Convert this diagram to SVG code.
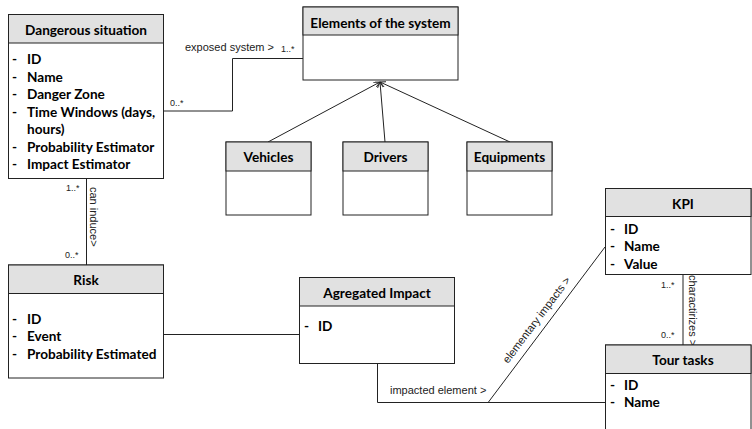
<svg xmlns="http://www.w3.org/2000/svg" width="752" height="429" viewBox="0 0 752 429">
<defs>
<style>
.box{fill:#fff;stroke:#222;stroke-width:1}
.hdr{fill:#e1e1e1;stroke:#222;stroke-width:1}
.t{font-family:Lato,"Liberation Sans",sans-serif;font-weight:bold;font-size:13.6px;fill:#000;text-anchor:middle}
.a{font-family:Lato,"Liberation Sans",sans-serif;font-weight:bold;font-size:13.6px;fill:#000}
.c{fill:none;stroke:#222;stroke-width:1}
.l{font-family:"Liberation Sans",Arial,sans-serif;font-size:11px;fill:#222}
.m{font-family:"Liberation Sans",Arial,sans-serif;font-size:9px;fill:#222}
</style>
<marker id="open" viewBox="0 0 10 10" refX="10" refY="5" markerWidth="6" markerHeight="6" orient="auto" markerUnits="userSpaceOnUse">
<path d="M0,0 L10,5 L0,10" fill="none" stroke="#222" stroke-width="1.5"/>
</marker>
</defs>
<rect width="752" height="429" fill="#fff"/>

<g id="connectors">
<polyline class="c" points="163,111 232.5,111 232.5,58.5 303,58.5"/>
<line class="c" x1="86.5" y1="178" x2="86.5" y2="265"/>
<line class="c" x1="163" y1="334.5" x2="299" y2="334.5"/>
<polyline class="c" points="377.5,363 377.5,402.5 605,402.5"/>
<line class="c" x1="488.5" y1="402" x2="605" y2="247"/>
<line class="c" x1="683" y1="274" x2="683" y2="345"/>
<line class="c" x1="268" y1="142" x2="380" y2="82" marker-end="url(#open)"/>
<line class="c" x1="385" y1="142" x2="380" y2="82" marker-end="url(#open)"/>
<line class="c" x1="510" y1="142" x2="380" y2="82" marker-end="url(#open)"/>
<text class="l" x="185" y="51">exposed system &gt;</text>
<text class="m" x="281" y="52">1..*</text>
<text class="m" x="170" y="106">0..*</text>
<text class="m" x="66" y="191">1..*</text>
<text class="m" x="65" y="258">0..*</text>
<text class="l" transform="translate(90,187) rotate(90)">can induce&gt;</text>
<text class="m" x="661" y="288">1..*</text>
<text class="m" x="661" y="338">0..*</text>
<text class="l" transform="translate(688.5,275) rotate(90)">charactirizes &gt;</text>
<text class="l" x="390" y="394">impacted element &gt;</text>
<text class="l" transform="translate(508,364) rotate(-53)">elementary impacts &gt;</text>
</g>

<g id="dangerous-situation">
<rect class="box" x="8.5" y="14.5" width="155" height="164"/>
<rect class="hdr" x="8.5" y="14.5" width="155" height="28.5"/>
<text class="t" x="86" y="35">Dangerous situation</text>
<text class="a" x="12" y="64">-</text><text class="a" x="27" y="64">ID</text>
<text class="a" x="12" y="81.5">-</text><text class="a" x="27" y="81.5">Name</text>
<text class="a" x="12" y="99">-</text><text class="a" x="27" y="99">Danger Zone</text>
<text class="a" x="12" y="116.5">-</text><text class="a" x="27" y="116.5">Time Windows (days,</text>
<text class="a" x="27" y="134">hours)</text>
<text class="a" x="12" y="151.5">-</text><text class="a" x="27" y="151.5">Probability Estimator</text>
<text class="a" x="12" y="169">-</text><text class="a" x="27" y="169">Impact Estimator</text>
</g>

<g id="elements-of-the-system">
<rect class="box" x="303" y="7" width="155" height="73"/>
<rect class="hdr" x="303" y="7" width="155" height="28"/>
<text class="t" x="380.5" y="28">Elements of the system</text>
</g>

<g id="vehicles">
<rect class="box" x="226" y="142" width="85" height="73"/>
<rect class="hdr" x="226" y="142" width="85" height="29"/>
<text class="t" x="268.5" y="162">Vehicles</text>
</g>

<g id="drivers">
<rect class="box" x="343" y="142" width="85" height="73"/>
<rect class="hdr" x="343" y="142" width="85" height="29"/>
<text class="t" x="385.5" y="162">Drivers</text>
</g>

<g id="equipments">
<rect class="box" x="467" y="142" width="85" height="73"/>
<rect class="hdr" x="467" y="142" width="85" height="29"/>
<text class="t" x="509.5" y="162">Equipments</text>
</g>

<g id="risk">
<rect class="box" x="8.5" y="265" width="155" height="113"/>
<rect class="hdr" x="8.5" y="265" width="155" height="28.5"/>
<text class="t" x="86" y="284.5">Risk</text>
<text class="a" x="12" y="323.5">-</text><text class="a" x="27" y="323.5">ID</text>
<text class="a" x="12" y="341">-</text><text class="a" x="27" y="341">Event</text>
<text class="a" x="12" y="358.5">-</text><text class="a" x="27" y="358.5">Probability Estimated</text>
</g>

<g id="agregated-impact">
<rect class="box" x="299.5" y="277.5" width="155" height="86"/>
<rect class="hdr" x="299.5" y="277.5" width="155" height="28.5"/>
<text class="t" x="377" y="297.5">Agregated Impact</text>
<text class="a" x="304" y="331">-</text><text class="a" x="318" y="331">ID</text>
</g>

<g id="kpi">
<rect class="box" x="605.5" y="188.5" width="145.5" height="86"/>
<rect class="hdr" x="605.5" y="188.5" width="145.5" height="28"/>
<text class="t" x="683" y="208.5">KPI</text>
<text class="a" x="610" y="233.5">-</text><text class="a" x="624" y="233.5">ID</text>
<text class="a" x="610" y="251">-</text><text class="a" x="624" y="251">Name</text>
<text class="a" x="610" y="269">-</text><text class="a" x="624" y="269">Value</text>
</g>

<g id="tour-tasks">
<rect class="box" x="605.5" y="345" width="145.5" height="100"/>
<rect class="hdr" x="605.5" y="345" width="145.5" height="28.5"/>
<text class="t" x="683" y="365">Tour tasks</text>
<text class="a" x="610" y="389.5">-</text><text class="a" x="624" y="389.5">ID</text>
<text class="a" x="610" y="407">-</text><text class="a" x="624" y="407">Name</text>
</g>
</svg>
